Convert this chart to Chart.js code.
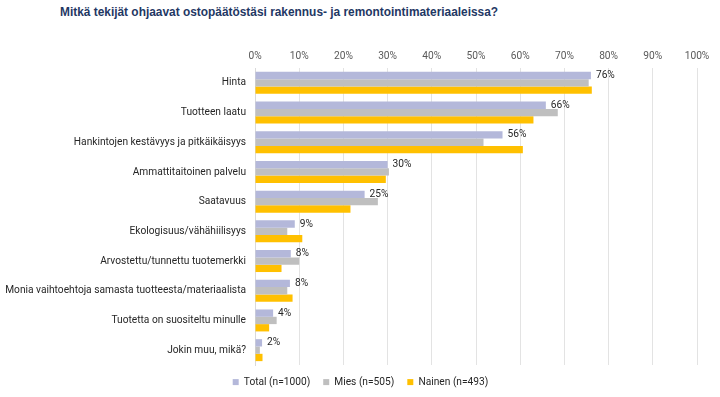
<!DOCTYPE html>
<html>
<head>
<meta charset="utf-8">
<script src="https://cdn.jsdelivr.net/npm/chart.js@4/dist/chart.umd.min.js"></script>
<style>
  html, body { margin: 0; padding: 0; background: #fff; }
  #wrap { position: relative; width: 720px; height: 397px; }
  #title { position: absolute; left: 60px; top: 5px; font: bold 11.9px "Liberation Sans", Arial, sans-serif; color: #1F3864; white-space: nowrap; }
  canvas { position: absolute; left: 0; top: 0; }
</style>
</head>
<body>
<div id="wrap">
  <div id="title">Mitkä tekijät ohjaavat ostopäätöstäsi rakennus- ja remontointimateriaaleissa?</div>
  <canvas id="chart" width="720" height="397"></canvas>
</div>
<script>
// categories (top to bottom)
var categories = [
  'Hinta',
  'Tuotteen laatu',
  'Hankintojen kestävyys ja pitkäikäisyys',
  'Ammattitaitoinen palvelu',
  'Saatavuus',
  'Ekologisuus/vähähiilisyys',
  'Arvostettu/tunnettu tuotemerkki',
  'Monia vaihtoehtoja samasta tuotteesta/materiaalista',
  'Tuotetta on suositeltu minulle',
  'Jokin muu, mikä?'
];

// percentages
var totalValues  = [76.0, 65.8, 56.0, 30.0, 24.8, 9.0, 8.1, 7.9, 4.1, 1.6];
var miesValues   = [75.5, 68.5, 51.7, 30.3, 27.8, 7.3, 10.0, 7.3, 4.9, 1.1];
var nainenValues = [76.2, 63.0, 60.6, 29.6, 21.6, 10.7, 6.0, 8.5, 3.2, 1.7];

// labels printed next to the total bars
var totalLabels = ['76%', '66%', '56%', '30%', '25%', '9%', '8%', '8%', '4%', '2%'];

var seriesNames = ['Total (n=1000)', 'Mies (n=505)', 'Nainen (n=493)'];
var seriesColors = ['#B4B8DA', '#BFBFBF', '#FFC000'];

var fontFamily = 'Roboto, "Noto Sans", sans-serif';
var fontSize = 10.2;

// draws the percentage text after each total bar
var totalLabelPlugin = {
  id: 'totalLabels',
  afterDatasetsDraw: function (chart) {
    var ctx = chart.ctx;
    var meta = chart.getDatasetMeta(0);
    ctx.save();
    ctx.font = fontSize + 'px ' + fontFamily;
    ctx.fillStyle = '#262626';
    ctx.textAlign = 'left';
    ctx.textBaseline = 'middle';
    meta.data.forEach(function (bar, i) {
      ctx.fillText(totalLabels[i], bar.x + 5, bar.y);
    });
    ctx.restore();
  }
};

// nudges the legend so it sits centred on the page like the original
var legendShiftPlugin = {
  id: 'legendShift',
  afterLayout: function (chart) {
    var lg = chart.legend;
    if (!lg) return;
    lg.left += 12;
    lg.right += 12;
    lg.top -= 1;
    lg.bottom -= 1;
  }
};

var config = {
  type: 'bar',
  data: {
    labels: categories,
    datasets: [{
      label: seriesNames[0],
      data: totalValues,
      backgroundColor: seriesColors[0]
    }, {
      label: seriesNames[1],
      data: miesValues,
      backgroundColor: seriesColors[1]
    }, {
      label: seriesNames[2],
      data: nainenValues,
      backgroundColor: seriesColors[2]
    }]
  },
  options: {
    indexAxis: 'y',
    responsive: false,
    animation: false,
    datasets: {
      bar: {
        categoryPercentage: 0.74,
        barPercentage: 1.0
      }
    },
    layout: {
      padding: { top: 41, right: 23, bottom: 0, left: 0 }
    },
    scales: {
      x: {
        position: 'top',
        min: 0,
        max: 100,
        ticks: {
          stepSize: 10,
          padding: 5,
          color: '#595959',
          font: { family: fontFamily, size: fontSize },
          callback: function (v) { return v + '%'; }
        },
        grid: {
          color: '#E3E3E3',
          drawTicks: false
        },
        border: { display: false },
        afterFit: function (scale) { scale.height = 27; }
      },
      y: {
        ticks: {
          padding: 1,
          color: '#262626',
          font: { family: fontFamily, size: fontSize }
        },
        grid: { display: false },
        border: { display: true, color: '#D9D9D9' },
        afterFit: function (scale) { scale.width = 255; }
      }
    },
    plugins: {
      legend: {
        position: 'bottom',
        maxHeight: 32,
        labels: {
          boxWidth: 6,
          boxHeight: 6,
          padding: 13,
          color: '#262626',
          font: { family: fontFamily, size: fontSize }
        }
      },
      tooltip: { enabled: false }
    }
  },
  plugins: [totalLabelPlugin, legendShiftPlugin]
};

new Chart(document.getElementById('chart'), config);
</script>
</body>
</html>
